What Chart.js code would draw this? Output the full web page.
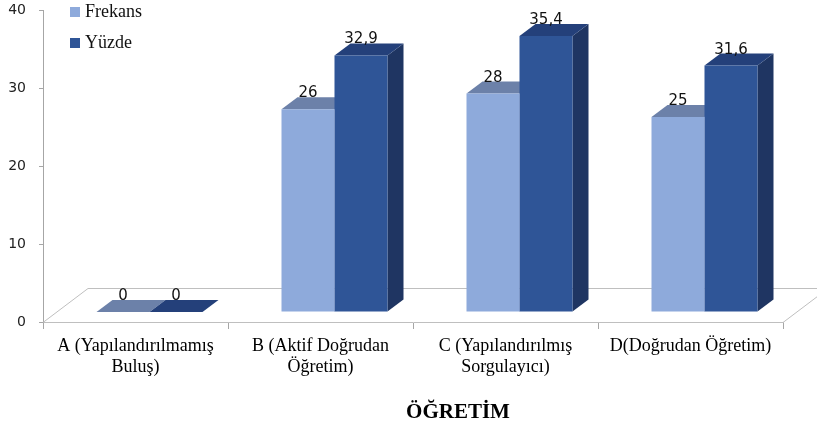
<!DOCTYPE html>
<html><head><meta charset="utf-8">
<script src="https://cdn.jsdelivr.net/npm/chart.js@4/dist/chart.umd.min.js"></script>
<style>html,body{margin:0;padding:0;background:#fff}canvas{display:block}</style>
</head><body>
<canvas id="c" width="817" height="432"></canvas>
<script>
// Öğretim yöntemlerine göre frekans ve yüzde dağılımı
const categories = [
  ['A (Yapılandırılmamış', 'Buluş)'],
  ['B (Aktif Doğrudan', 'Öğretim)'],
  ['C (Yapılandırılmış', 'Sorgulayıcı)'],
  'D(Doğrudan Öğretim)'
];
const frekans = [0, 26, 28, 25];
const yuzde = [0, 32.9, 35.4, 31.6];
const yTicks = [0, 10, 20, 30, 40];
const seriesNames = ['Frekans', 'Yüzde'];
const axisTitle = 'ÖĞRETİM';

// faces of each 3D column: front / top / side
const palette = [
  { front: '#8eaadb', top: '#6c81a9', side: '#5f75a0' },
  { front: '#2f5597', top: '#24407a', side: '#1f3562' }
];
const DEPTH = { dx: 16, dy: -12 };   // column depth
const SHIFT = { dx: 14, dy: -10 };   // columns stand mid-way on the floor
const FLOOR = { dx: 45, dy: -34 };   // full floor depth

const fmt = v => String(v).replace('.', ',');

const columns3d = {
  id: 'columns3d',
  beforeDatasetsDraw(chart) {
    const { ctx, chartArea: a } = chart;
    // floor outline
    ctx.save();
    ctx.strokeStyle = '#bfbfbf';
    ctx.lineWidth = 1;
    ctx.beginPath();
    ctx.moveTo(a.left, a.bottom + 0.5);
    ctx.lineTo(a.left + FLOOR.dx, a.bottom + FLOOR.dy + 0.5);
    ctx.lineTo(a.right + FLOOR.dx, a.bottom + FLOOR.dy + 0.5);
    ctx.moveTo(a.right, a.bottom + 0.5);
    ctx.lineTo(a.right + FLOOR.dx, a.bottom + FLOOR.dy + 0.5);
    ctx.stroke();
    ctx.restore();

    ctx.save();
    ctx.translate(SHIFT.dx, SHIFT.dy);
    const metas = chart.data.datasets.map((d, i) => chart.getDatasetMeta(i));
    for (let i = 0; i < categories.length; i++) {
      metas.forEach((meta, di) => {
        const el = meta.data[i];
        const x0 = el.x - el.width / 2, x1 = el.x + el.width / 2;
        const yt = el.y, yb = el.base;
        const c = palette[di];
        // side face
        ctx.fillStyle = c.side;
        ctx.beginPath();
        ctx.moveTo(x1, yt); ctx.lineTo(x1 + DEPTH.dx, yt + DEPTH.dy);
        ctx.lineTo(x1 + DEPTH.dx, yb + DEPTH.dy); ctx.lineTo(x1, yb);
        ctx.closePath(); ctx.fill();
        // top face
        ctx.fillStyle = c.top;
        ctx.beginPath();
        ctx.moveTo(x0, yt); ctx.lineTo(x1, yt);
        ctx.lineTo(x1 + DEPTH.dx, yt + DEPTH.dy); ctx.lineTo(x0 + DEPTH.dx, yt + DEPTH.dy);
        ctx.closePath(); ctx.fill();
      });
    }
  },
  afterDatasetsDraw(chart) {
    const { ctx } = chart;
    ctx.font = '15px "DejaVu Sans"';
    ctx.fillStyle = '#111';
    ctx.textAlign = 'center';
    ctx.textBaseline = 'alphabetic';
    chart.data.datasets.forEach((ds, di) => {
      chart.getDatasetMeta(di).data.forEach((el, i) => {
        ctx.fillText(fmt(ds.data[i]), el.x, el.y + DEPTH.dy);
      });
    });
    ctx.restore();
  },
  afterDraw(chart) {
    const { ctx } = chart;
    ctx.save();
    // legend
    ctx.font = '18px "Liberation Serif"';
    ctx.textBaseline = 'middle';
    ctx.textAlign = 'left';
    seriesNames.forEach((name, i) => {
      const y = 12 + i * 31;
      ctx.fillStyle = palette[i].front;
      ctx.fillRect(70, y - 5, 10, 10);
      ctx.fillStyle = '#111';
      ctx.fillText(name, 85, y);
    });
    // category axis title
    ctx.font = 'bold 21px "Liberation Serif"';
    ctx.textAlign = 'center';
    ctx.fillStyle = '#000';
    ctx.fillText(axisTitle, 458, 413);
    ctx.restore();
  }
};

new Chart(document.getElementById('c'), {
  type: 'bar',
  data: {
    labels: categories,
    datasets: [
      { label: seriesNames[0], data: frekans, backgroundColor: palette[0].front, borderWidth: 0, clip: false },
      { label: seriesNames[1], data: yuzde, backgroundColor: palette[1].front, borderWidth: 0, clip: false }
    ]
  },
  options: {
    responsive: false,
    devicePixelRatio: 1,
    animation: false,
    events: [],
    categoryPercentage: 0.573,
    barPercentage: 1.0,
    layout: { padding: { top: 0, right: 34, bottom: 0, left: 0 } },
    plugins: { legend: { display: false }, tooltip: { enabled: false } },
    scales: {
      x: {
        afterFit(s) { s.height = 110; },
        border: { color: '#bfbfbf' },
        grid: { drawOnChartArea: false, drawTicks: true, tickLength: 7, color: '#a6a6a6', offset: true },
        ticks: {
          font: { family: 'Liberation Serif', size: 18, lineHeight: 1.2 },
          color: '#000', padding: 6, maxRotation: 0, autoSkip: false
        }
      },
      y: {
        min: yTicks[0], max: yTicks[yTicks.length - 1],
        afterFit(s) { s.width = 43; s.paddingTop = 10; },
        afterBuildTicks(s) { s.ticks = yTicks.map(v => ({ value: v })); },
        border: { color: '#a6a6a6' },
        grid: { drawOnChartArea: false, tickLength: 4, color: '#a6a6a6' },
        ticks: { font: { family: 'DejaVu Sans', size: 14 }, color: '#222', padding: 13 }
      }
    }
  },
  plugins: [columns3d]
});
</script>
</body></html>
